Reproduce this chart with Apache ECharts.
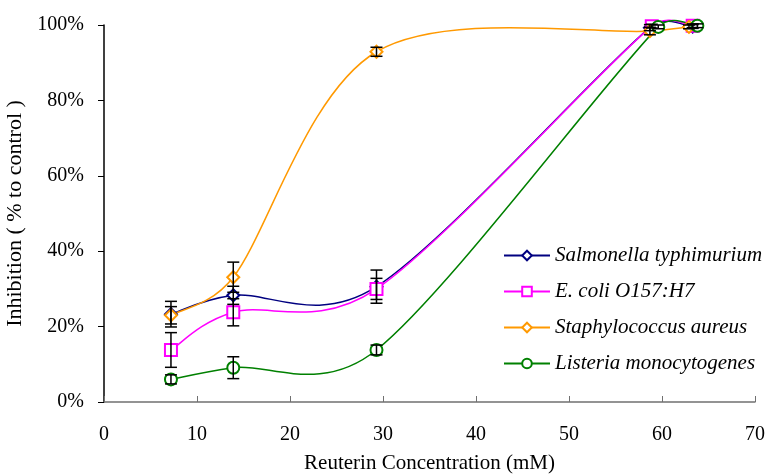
<!DOCTYPE html>
<html>
<head>
<meta charset="utf-8">
<script src="https://cdn.jsdelivr.net/npm/echarts@6/dist/echarts.min.js"></script>
<style>
  html, body { margin: 0; padding: 0; background: #fff; }
  #chart { width: 768px; height: 475px; }
</style>
</head>
<body>
<div id="chart"></div>
<script>
// concentrations (mM), inhibition (%), error (+/- %)
const salmonellaX = [7.2, 13.9, 29.3, 58.7, 63.3];
const salmonellaY = [23.3, 28.3, 30.6, 99.3, 99.6];
const salmonellaErr = [3.4, 2.4, 4.4, 0.8, 0.5];

const ecoliX = [7.2, 13.9, 29.3, 58.9, 63.3];
const ecoliY = [13.8, 23.8, 30.0, 99.7, 99.8];
const ecoliErr = [4.6, 3.6, 2.8, 0.5, 0.5];

const staphX = [7.2, 13.9, 29.3, 58.7, 62.9];
const staphY = [23.0, 33.1, 92.9, 98.4, 99.5];
const staphErr = [2.3, 4.0, 1.2, 1.0, 0.5];

const listeriaX = [7.2, 13.9, 29.3, 59.6, 63.8];
const listeriaY = [6.0, 9.1, 13.8, 99.5, 99.8];
const listeriaErr = [1.2, 2.9, 1.3, 0.5, 0.5];

const xTicks = [0, 10, 20, 30, 40, 50, 60, 70];
const yTicks = [0, 20, 40, 60, 80, 100];

const serif = 'Liberation Serif';

let myChart = echarts.init(document.getElementById('chart'));

function pairs(xs, ys) {
    return xs.map((x, i) => [x, ys[i]]);
}
function triples(xs, ys, es) {
    return xs.map((x, i) => [x, ys[i], es[i]]);
}

// markers only (plus legend entry); the curve itself is drawn by smoothCurve
function markerSeries(name, xs, ys, color, symbol) {
    return {
        name: name,
        type: 'line',
        data: pairs(xs, ys),
        symbol: symbol,
        symbolSize: 12,
        z: 3,
        lineStyle: { color: color, width: 1.5, opacity: 0 },
        itemStyle: { color: color, borderColor: color, borderWidth: 1.5 }
    };
}

// scale a tangent so it is not longer than half of the segment
function clampTangent(t, segLen) {
    let len = Math.hypot(t[0], t[1]);
    let maxLen = segLen * 0.5;
    if (len > maxLen && len > 0) {
        return [t[0] * maxLen / len, t[1] * maxLen / len];
    }
    return t;
}

// Excel-like smoothed line: bezier segments through the data points
function smoothCurve(xs, ys, color) {
    return {
        type: 'custom',
        data: pairs(xs, ys),
        encode: { x: 0, y: 1 },
        z: 2,
        silent: true,
        clip: false,
        renderItem: (params, api) => {
            let i = params.dataIndex;
            let n = xs.length;
            if (i >= n - 1) return null;
            let p0 = api.coord([xs[Math.max(i - 1, 0)], ys[Math.max(i - 1, 0)]]);
            let p1 = api.coord([xs[i], ys[i]]);
            let p2 = api.coord([xs[i + 1], ys[i + 1]]);
            let p3 = api.coord([xs[Math.min(i + 2, n - 1)], ys[Math.min(i + 2, n - 1)]]);
            let seg = Math.hypot(p2[0] - p1[0], p2[1] - p1[1]);
            let t1 = clampTangent([(p2[0] - p0[0]) / 6, (p2[1] - p0[1]) / 6], seg);
            let t2 = clampTangent([(p3[0] - p1[0]) / 6, (p3[1] - p1[1]) / 6], seg);
            return {
                type: 'bezierCurve',
                shape: {
                    x1: p1[0], y1: p1[1],
                    cpx1: p1[0] + t1[0], cpy1: p1[1] + t1[1],
                    cpx2: p2[0] - t2[0], cpy2: p2[1] - t2[1],
                    x2: p2[0], y2: p2[1]
                },
                style: { stroke: color, lineWidth: 1.5, fill: null }
            };
        }
    };
}

function errorSeries(xs, ys, es) {
    return {
        type: 'custom',
        data: triples(xs, ys, es),
        encode: { x: 0, y: 1 },
        z: 4,
        silent: true,
        renderItem: (params, api) => {
            let x = api.value(0), y = api.value(1), e = api.value(2);
            let top = api.coord([x, y + e]);
            let bot = api.coord([x, y - e]);
            let w = 6;
            let style = { stroke: '#000', lineWidth: 1.5 };
            return {
                type: 'group',
                children: [
                    { type: 'line', shape: { x1: top[0], y1: top[1], x2: bot[0], y2: bot[1] }, style: style },
                    { type: 'line', shape: { x1: top[0] - w, y1: top[1], x2: top[0] + w, y2: top[1] }, style: style },
                    { type: 'line', shape: { x1: bot[0] - w, y1: bot[1], x2: bot[0] + w, y2: bot[1] }, style: style }
                ]
            };
        }
    };
}

let option = {
    backgroundColor: '#fff',
    animation: false,
    grid: {
        left: 104,
        right: 13,
        top: 25,
        bottom: 73,
        containLabel: false,
        outerBoundsMode: 'none'
    },
    legend: {
        orient: 'vertical',
        left: 503,
        top: 245,
        padding: 0,
        itemWidth: 46,
        itemHeight: 12,
        itemGap: 15,
        lineStyle: { opacity: 1 },
        data: ['Salmonella typhimurium', 'E. coli O157:H7', 'Staphylococcus aureus', 'Listeria monocytogenes'],
        textStyle: {
            fontFamily: serif,
            fontStyle: 'italic',
            fontSize: 21,
            color: '#000'
        }
    },
    xAxis: {
        type: 'value',
        min: 0,
        max: 70,
        interval: 10,
        name: 'Reuterin Concentration (mM)',
        nameLocation: 'middle',
        nameGap: 51,
        nameTextStyle: { fontFamily: serif, fontSize: 21, color: '#000' },
        axisLine: { lineStyle: { color: '#707070', width: 1.5 } },
        axisTick: { show: true, inside: true, length: 6, lineStyle: { color: '#707070' } },
        axisLabel: {
            fontFamily: serif, fontSize: 20, color: '#000', margin: 23,
            formatter: v => xTicks.includes(v) ? String(v) : ''
        },
        splitLine: { show: false }
    },
    yAxis: {
        type: 'value',
        min: 0,
        max: 100,
        interval: 20,
        name: 'Inhibition ( % to control )',
        nameLocation: 'middle',
        nameGap: 70,
        nameTextStyle: { fontFamily: serif, fontSize: 22, color: '#000' },
        axisLine: { show: true, lineStyle: { color: '#000', width: 1.5 } },
        axisTick: { show: true, inside: false, length: 6, lineStyle: { color: '#000' } },
        axisLabel: {
            fontFamily: serif, fontSize: 20, color: '#000', margin: 20,
            formatter: v => yTicks.includes(v) ? v + '%' : ''
        },
        splitLine: { show: false }
    },
    series: [
        markerSeries('Salmonella typhimurium', salmonellaX, salmonellaY, '#000080', 'emptyDiamond'),
        markerSeries('E. coli O157:H7', ecoliX, ecoliY, '#ff00ff', 'emptyRect'),
        markerSeries('Staphylococcus aureus', staphX, staphY, '#ff9900', 'emptyDiamond'),
        markerSeries('Listeria monocytogenes', listeriaX, listeriaY, '#008000', 'emptyCircle'),
        smoothCurve(salmonellaX, salmonellaY, '#000080'),
        smoothCurve(ecoliX, ecoliY, '#ff00ff'),
        smoothCurve(staphX, staphY, '#ff9900'),
        smoothCurve(listeriaX, listeriaY, '#008000'),
        errorSeries(salmonellaX, salmonellaY, salmonellaErr),
        errorSeries(ecoliX, ecoliY, ecoliErr),
        errorSeries(staphX, staphY, staphErr),
        errorSeries(listeriaX, listeriaY, listeriaErr)
    ]
};
myChart.setOption(option);
</script>
</body>
</html>
